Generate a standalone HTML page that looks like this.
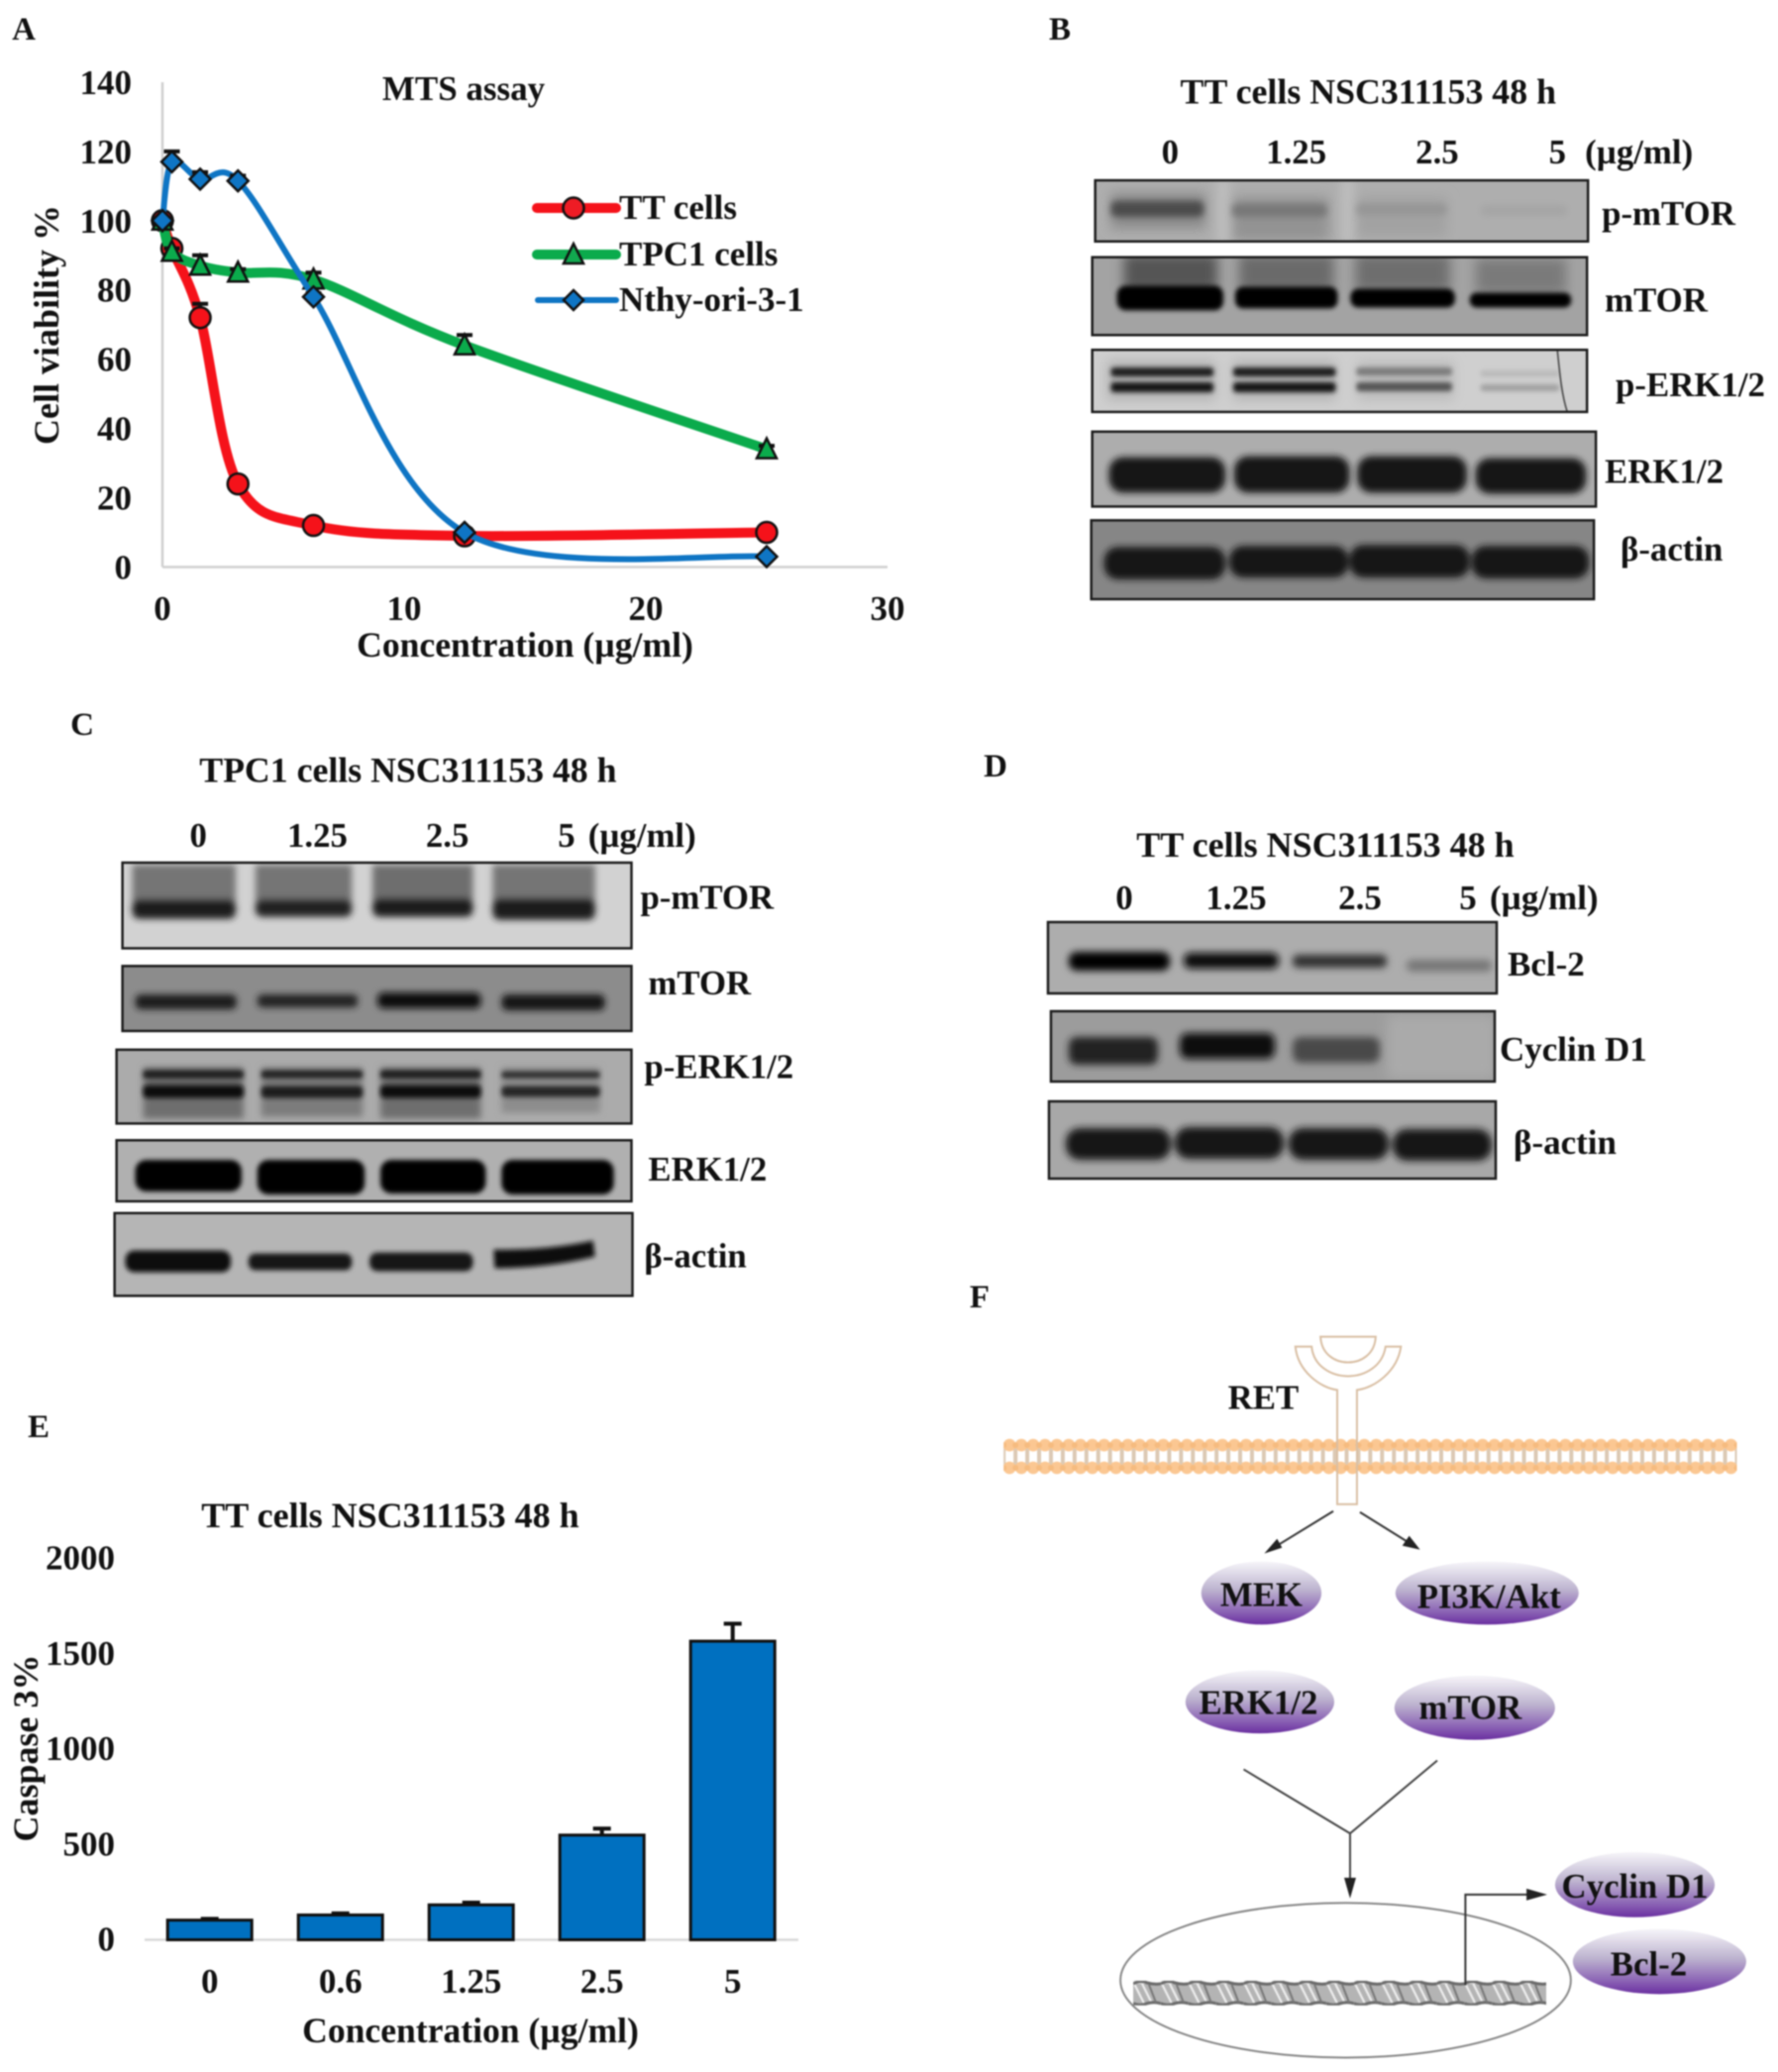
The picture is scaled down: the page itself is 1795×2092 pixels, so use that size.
<!DOCTYPE html>
<html lang="en">
<head>
<meta charset="utf-8">
<title>NSC311153 figure</title>
<style>
html,body{margin:0;padding:0;background:#fff;}
svg text{font-family:"Liberation Serif","DejaVu Serif",serif;font-weight:bold;font-size:35px;fill:#111;}
svg text.big{font-size:36px;}
.m{text-anchor:middle;}
.e{text-anchor:end;}
.frame{fill:none;stroke:#1c1c1c;stroke-width:2.5;}
#fig{filter:blur(0.7px);}
</style>
</head>
<body>
<svg id="fig" xmlns="http://www.w3.org/2000/svg" width="1795" height="2092" viewBox="0 0 1795 2092" style="display:block">
<defs>
<filter id="b1" x="-20%" y="-60%" width="140%" height="220%"><feGaussianBlur stdDeviation="2.4"/></filter>
<filter id="b3" x="-20%" y="-60%" width="140%" height="220%"><feGaussianBlur stdDeviation="3.6"/></filter>
<filter id="b6" x="-20%" y="-60%" width="140%" height="220%"><feGaussianBlur stdDeviation="6"/></filter>
<linearGradient id="pill" x1="0" y1="0" x2="0" y2="1">
<stop offset="0" stop-color="#f6f5f9"/><stop offset="0.45" stop-color="#bdb3cf"/><stop offset="0.8" stop-color="#8a62b4"/><stop offset="1" stop-color="#6a2fa0"/>
</linearGradient>
<pattern id="lipid" patternUnits="userSpaceOnUse" x="1013.5" y="1453" width="12" height="37">
<line x1="0" y1="8" x2="0" y2="30" stroke="#dcc9b4" stroke-width="4"/><line x1="12" y1="8" x2="12" y2="30" stroke="#dcc9b4" stroke-width="4"/>
<circle cx="6" cy="7" r="6.4" fill="#fbc792"/><circle cx="6" cy="30" r="6.4" fill="#fbc792"/>
<circle cx="0" cy="7" r="3" fill="#f6bb7f"/><circle cx="12" cy="7" r="3" fill="#f6bb7f"/><circle cx="0" cy="30" r="3" fill="#f6bb7f"/><circle cx="12" cy="30" r="3" fill="#f6bb7f"/>
</pattern>
<pattern id="helix" patternUnits="userSpaceOnUse" x="1145" y="2003.5" width="28" height="25">
<path d="M0 3H28V23H0Z" fill="#b4b4b4"/>
<path d="M1 3L11 23M9 3L19 23" fill="none" stroke="#eee" stroke-width="2.2"/>
<path d="M0 3Q7 -1 14 2Q21 4 28 3M0 23Q7 26 14 23Q21 21 28 23" fill="none" stroke="#6a6a6a" stroke-width="3"/>
<path d="M16 4L23 22" fill="none" stroke="#777" stroke-width="2"/>
</pattern>
</defs>

<!-- Panel letters -->
<text class="m" x="24" y="40" style="font-size:33px">A</text>
<text class="m" x="1070" y="40" style="font-size:33px">B</text>
<text class="m" x="83" y="742" style="font-size:33px">C</text>
<text class="m" x="1005" y="784" style="font-size:33px">D</text>
<text class="m" x="39" y="1451" style="font-size:33px">E</text>
<text class="m" x="989" y="1320" style="font-size:33px">F</text>

<!-- Panel A static parts -->
<g id="panelA">
<line x1="164" y1="83" x2="164" y2="572.5" stroke="#d0d0d0" stroke-width="2.5"/>
<line x1="164" y1="572.5" x2="896" y2="572.5" stroke="#d0d0d0" stroke-width="2.5"/>
<text class="m" x="468" y="101">MTS assay</text>
<text class="m" x="530" y="663" style="font-size:35.6px">Concentration (µg/ml)</text>
<text class="m big" transform="translate(59,328) rotate(-90)" x="0" y="0">Cell viability %</text>
</g>
<g>
<g>
<line x1="542" y1="210" x2="622" y2="210" stroke="#f5121a" stroke-width="10" stroke-linecap="round"/>
<circle cx="579" cy="210" r="10.5" fill="#ee1c25" stroke="#111" stroke-width="2.5"/>
<text x="625" y="221">TT cells</text>
</g>
<g>
<line x1="542" y1="257" x2="622" y2="257" stroke="#0bab4c" stroke-width="10" stroke-linecap="round"/>
<path d="M579 246L589 266L569 266Z" fill="#11a84f" stroke="#111" stroke-width="2.5"/>
<text x="625" y="268">TPC1 cells</text>
</g>
<g>
<line x1="543" y1="303" x2="622" y2="303" stroke="#0f75c4" stroke-width="6" stroke-linecap="round"/>
<path d="M579 293L589 303L579 313L569 303Z" fill="#0f75c4" stroke="#111" stroke-width="2.5"/>
<text x="625" y="314">Nthy-ori-3-1</text>
</g>
</g>

<!-- Panel B -->
<g transform="translate(1040,0) scale(0.995) translate(-1040,0)">
<text class="m big" x="1383" y="105">TT cells NSC311153 48 h</text>
<text class="m" x="1182" y="166">0</text>
<text class="m" x="1310" y="166">1.25</text>
<text class="m" x="1453" y="166">2.5</text>
<text class="m" x="1575" y="166">5</text>
<text x="1603" y="166">(µg/ml)</text>

<g>
<svg x="1106" y="183" width="500" height="62" viewBox="1106 183 500 62">
<rect width="1795" height="2092" fill="#aeaeae"/>
<g filter="url(#b6)">
<rect x="1122" y="196" width="96" height="36" fill="#8b8b8b"/>
<rect x="1245" y="200" width="98" height="44" fill="#939393"/>
<rect x="1371" y="200" width="92" height="40" fill="#a2a2a2"/>
<rect x="1232" y="180" width="8" height="70" fill="#c8c8c8"/>
<rect x="1358" y="180" width="8" height="70" fill="#c8c8c8"/>
</g>
<g filter="url(#b3)">
<rect x="1122" y="204" width="94" height="16" rx="5" fill="#4c4c4c"/>
<rect x="1245" y="207" width="96" height="13" rx="5" fill="#777"/>
<rect x="1371" y="207" width="92" height="11" rx="5" fill="#959595"/>
<rect x="1497" y="208" width="88" height="11" rx="5" fill="#a5a5a5"/>
</g>
</svg>
<rect class="frame" x="1106" y="183" width="500" height="62"/>
</g>

<g>
<svg x="1103" y="261" width="502" height="79" viewBox="1103 261 502 79">
<rect width="1795" height="2092" fill="#a3a3a3"/>
<g filter="url(#b6)">
<rect x="1135" y="258" width="95" height="38" fill="#555"/>
<rect x="1252" y="258" width="96" height="38" fill="#6b6b6b"/>
<rect x="1370" y="258" width="96" height="38" fill="#6e6e6e"/>
<rect x="1492" y="262" width="92" height="36" fill="#7a7a7a"/>
</g>
<g filter="url(#b1)">
<rect x="1128" y="290" width="108" height="25" rx="9" fill="#000"/>
<rect x="1248" y="291" width="104" height="22" rx="8" fill="#020202"/>
<rect x="1365" y="293" width="106" height="19" rx="8" fill="#030303"/>
<rect x="1486" y="297" width="103" height="15" rx="7" fill="#050505"/>
</g>
</svg>
<rect class="frame" x="1103" y="261" width="502" height="79"/>
</g>

<g>
<svg x="1103" y="355" width="502" height="63" viewBox="1103 355 502 63">
<rect width="1795" height="2092" fill="#cfcfcf"/>
<g filter="url(#b6)">
<rect x="1118" y="366" width="110" height="40" fill="#b3b3b3"/>
<rect x="1246" y="366" width="104" height="40" fill="#b3b3b3"/>
<rect x="1372" y="366" width="98" height="40" fill="#bcbcbc"/>
</g>
<g filter="url(#b1)">
<rect x="1122" y="373" width="104" height="9" rx="3" fill="#1e1e1e"/>
<rect x="1122" y="388" width="104" height="10" rx="3" fill="#141414"/>
<rect x="1246" y="373" width="104" height="9" rx="3" fill="#1e1e1e"/>
<rect x="1246" y="388" width="104" height="10" rx="3" fill="#161616"/>
<rect x="1371" y="373" width="97" height="8" rx="3" fill="#7a7a7a"/>
<rect x="1371" y="388" width="97" height="9" rx="3" fill="#555"/>
<rect x="1497" y="376" width="80" height="6" rx="2" fill="#b8b8b8"/>
<rect x="1497" y="390" width="80" height="7" rx="3" fill="#a0a0a0"/>
</g>
<path d="M1575 356C1577 375 1579 400 1585 418" fill="none" stroke="#555" stroke-width="1.8"/>
</svg>
<rect class="frame" x="1103" y="355" width="502" height="63"/>
</g>

<g>
<svg x="1103" y="438" width="511" height="76" viewBox="1103 438 511 76">
<rect width="1795" height="2092" fill="#adadad"/>
<g filter="url(#b3)">
<rect x="1120" y="464" width="118" height="36" rx="14" fill="#121212"/>
<rect x="1247" y="463" width="117" height="37" rx="14" fill="#121212"/>
<rect x="1372" y="463" width="111" height="37" rx="14" fill="#121212"/>
<rect x="1492" y="465" width="112" height="36" rx="14" fill="#161616"/>
</g>
</svg>
<rect class="frame" x="1103" y="438" width="511" height="76"/>
</g>

<g>
<svg x="1102" y="528" width="510" height="80" viewBox="1102 528 510 80">
<rect width="1795" height="2092" fill="#868686"/>
<g filter="url(#b3)">
<rect x="1115" y="555" width="123" height="33" rx="14" fill="#161616"/>
<rect x="1242" y="554" width="121" height="32" rx="14" fill="#161616"/>
<rect x="1364" y="553" width="122" height="33" rx="14" fill="#161616"/>
<rect x="1488" y="554" width="119" height="33" rx="14" fill="#161616"/>
</g>
</svg>
<rect class="frame" x="1102" y="528" width="510" height="80"/>
</g>

<text x="1620" y="228">p-mTOR</text>
<text x="1623" y="316">mTOR</text>
<text x="1634" y="402">p-ERK1/2</text>
<text x="1623" y="490">ERK1/2</text>
<text x="1639" y="569">β-actin</text>
</g>

<!-- Panel C -->
<g transform="translate(60,700) scale(0.994) translate(-60,-700)">
<text class="m big" x="414" y="790">TPC1 cells NSC311153 48 h</text>
<text class="m" x="201" y="856">0</text>
<text class="m" x="322" y="856">1.25</text>
<text class="m" x="454" y="856">2.5</text>
<text class="m" x="575" y="856">5</text>
<text x="597" y="856">(µg/ml)</text>

<g>
<svg x="124" y="872" width="517" height="87" viewBox="124 872 517 87">
<rect width="1795" height="2092" fill="#d2d2d2"/>
<g filter="url(#b3)">
<rect x="134" y="874" width="105" height="45" fill="#747474"/>
<rect x="259" y="874" width="98" height="45" fill="#747474"/>
<rect x="378" y="874" width="102" height="45" fill="#6e6e6e"/>
<rect x="500" y="874" width="104" height="45" fill="#747474"/>
<rect x="134" y="909" width="105" height="20" rx="7" fill="#1c1c1c"/>
<rect x="259" y="909" width="98" height="18" rx="7" fill="#202020"/>
<rect x="378" y="908" width="102" height="19" rx="7" fill="#1e1e1e"/>
<rect x="500" y="908" width="104" height="22" rx="7" fill="#1c1c1c"/>
</g>
</svg>
<rect class="frame" x="124" y="872" width="517" height="87"/>
</g>

<g>
<svg x="124" y="977" width="517" height="66" viewBox="124 977 517 66">
<rect width="1795" height="2092" fill="#8c8c8c"/>
<g filter="url(#b3)">
<rect x="137" y="1006" width="103" height="15" rx="6" fill="#1a1a1a"/>
<rect x="261" y="1006" width="102" height="13" rx="5" fill="#222"/>
<rect x="383" y="1004" width="105" height="16" rx="6" fill="#0e0e0e"/>
<rect x="509" y="1006" width="105" height="16" rx="6" fill="#141414"/>
</g>
</svg>
<rect class="frame" x="124" y="977" width="517" height="66"/>
</g>

<g>
<svg x="118" y="1062" width="523" height="75" viewBox="118 1062 523 75">
<rect width="1795" height="2092" fill="#ababab"/>
<g filter="url(#b3)">
<rect x="145" y="1080" width="102" height="52" fill="#6e6e6e"/>
<rect x="265" y="1080" width="103" height="50" fill="#7c7c7c"/>
<rect x="386" y="1080" width="102" height="52" fill="#6e6e6e"/>
<rect x="509" y="1080" width="100" height="46" fill="#8c8c8c"/>
</g>
<g filter="url(#b1)">
<rect x="145" y="1083" width="102" height="8" rx="3" fill="#1e1e1e"/>
<rect x="145" y="1098" width="102" height="13" rx="4" fill="#101010"/>
<rect x="265" y="1083" width="103" height="8" rx="3" fill="#222"/>
<rect x="265" y="1099" width="103" height="12" rx="4" fill="#1a1a1a"/>
<rect x="386" y="1083" width="102" height="8" rx="3" fill="#1c1c1c"/>
<rect x="386" y="1098" width="102" height="13" rx="4" fill="#0e0e0e"/>
<rect x="509" y="1084" width="100" height="7" rx="3" fill="#2e2e2e"/>
<rect x="509" y="1099" width="100" height="11" rx="4" fill="#262626"/>
</g>
</svg>
<rect class="frame" x="118" y="1062" width="523" height="75"/>
</g>

<g>
<svg x="118" y="1154" width="523" height="62" viewBox="118 1154 523 62">
<rect width="1795" height="2092" fill="#b0b0b0"/>
<g filter="url(#b1)">
<rect x="137" y="1174" width="108" height="32" rx="11" fill="#040404"/>
<rect x="261" y="1174" width="109" height="35" rx="11" fill="#000"/>
<rect x="386" y="1174" width="107" height="34" rx="11" fill="#000"/>
<rect x="509" y="1174" width="114" height="35" rx="11" fill="#000"/>
</g>
</svg>
<rect class="frame" x="118" y="1154" width="523" height="62"/>
</g>

<g>
<svg x="116" y="1228" width="526" height="84" viewBox="116 1228 526 84">
<rect width="1795" height="2092" fill="#b5b5b5"/>
<g filter="url(#b1)">
<rect x="127" y="1266" width="107" height="22" rx="9" fill="#080808"/>
<rect x="252" y="1269" width="105" height="17" rx="7" fill="#141414"/>
<rect x="375" y="1268" width="105" height="19" rx="8" fill="#121212"/>
<path d="M501 1265Q555 1266 602 1256L604 1272Q555 1284 502 1284Z" fill="#0c0c0c"/>
</g>
</svg>
<rect class="frame" x="116" y="1228" width="526" height="84"/>
</g>

<text x="650" y="919">p-mTOR</text>
<text x="658" y="1006">mTOR</text>
<text x="654" y="1091">p-ERK1/2</text>
<text x="658" y="1195">ERK1/2</text>
<text x="654" y="1283">β-actin</text>
</g>

<!-- Panel D -->
<g>
<text class="m big" x="1338" y="865">TT cells NSC311153 48 h</text>
<text class="m" x="1135" y="918">0</text>
<text class="m" x="1248" y="918">1.25</text>
<text class="m" x="1373" y="918">2.5</text>
<text class="m" x="1482" y="918">5</text>
<text x="1504" y="918">(µg/ml)</text>

<g>
<svg x="1058" y="931" width="453" height="72" viewBox="1058 931 453 72">
<rect width="1795" height="2092" fill="#adadad"/>
<g filter="url(#b3)">
<rect x="1079" y="961" width="102" height="19" rx="8" fill="#000"/>
<rect x="1195" y="962" width="96" height="16" rx="7" fill="#0c0c0c"/>
<rect x="1305" y="964" width="95" height="13" rx="5" fill="#303030"/>
<rect x="1420" y="969" width="86" height="12" rx="5" fill="#777"/>
</g>
</svg>
<rect class="frame" x="1058" y="931" width="453" height="72"/>
</g>

<g>
<svg x="1061" y="1021" width="448" height="71" viewBox="1061 1021 448 71">
<rect width="1795" height="2092" fill="#9c9c9c"/>
<rect x="1400" y="1025" width="110" height="64" fill="#aaa" filter="url(#b6)"/>
<g filter="url(#b3)">
<rect x="1079" y="1047" width="90" height="28" rx="8" fill="#222"/>
<rect x="1191" y="1043" width="96" height="26" rx="8" fill="#0c0c0c"/>
<rect x="1305" y="1047" width="88" height="26" rx="8" fill="#484848"/>
</g>
</svg>
<rect class="frame" x="1061" y="1021" width="448" height="71"/>
</g>

<g>
<svg x="1059" y="1112" width="451" height="78" viewBox="1059 1112 451 78">
<rect width="1795" height="2092" fill="#a8a8a8"/>
<g filter="url(#b3)">
<rect x="1076" y="1139" width="106" height="32" rx="14" fill="#181818"/>
<rect x="1186" y="1138" width="110" height="32" rx="14" fill="#181818"/>
<rect x="1301" y="1139" width="101" height="32" rx="14" fill="#181818"/>
<rect x="1406" y="1140" width="100" height="32" rx="14" fill="#181818"/>
</g>
</svg>
<rect class="frame" x="1059" y="1112" width="451" height="78"/>
</g>

<text x="1522" y="985">Bcl-2</text>
<text x="1514" y="1071">Cyclin D1</text>
<text x="1528" y="1165">β-actin</text>
</g>

<!-- Panel E static -->
<g id="panelE">
<text class="m big" x="394" y="1542">TT cells NSC311153 48 h</text>
<text class="m" x="475" y="2062" style="font-size:35.6px">Concentration (µg/ml)</text>
<text class="m big" transform="translate(38,1765) rotate(-90)" x="0" y="0">Caspase 3%</text>
<line x1="146" y1="1958.5" x2="806" y2="1958.5" stroke="#d9d9d9" stroke-width="2.5"/>
</g>

<!-- Panel F -->
<g transform="translate(960,1280) scale(0.995) translate(-960,-1280)">
<rect x="1013.5" y="1453" width="744" height="37" fill="url(#lipid)"/>
<path d="M1309.5 1360C1312 1385 1335 1402 1352 1404L1352 1520L1372 1520L1372 1404C1390 1402 1413 1385 1416.6 1360L1401 1360C1398 1380 1380 1390 1363 1390C1346 1390 1328 1380 1326 1360Z" fill="none" stroke="#d9bfa4" stroke-width="2"/>
<path d="M1335 1350L1391 1350C1390 1368 1376 1376 1363 1376C1350 1376 1336 1368 1335 1350Z" fill="none" stroke="#d9bfa4" stroke-width="2"/>
<text class="m" x="1277" y="1423">RET</text>
<g stroke="#333" stroke-width="2" fill="#222">
<line x1="1348" y1="1527" x2="1286" y2="1565"/>
<path d="M1278 1570L1291 1555L1296 1564Z" stroke="none"/>
<line x1="1375" y1="1528" x2="1428" y2="1561"/>
<path d="M1436 1566L1418 1562L1425 1552Z" stroke="none"/>
</g>
<g><ellipse cx="1275" cy="1610" rx="61" ry="32" fill="url(#pill)"/><text class="m" x="1275" y="1623">MEK</text></g>
<g><ellipse cx="1504" cy="1610" rx="93" ry="32" fill="url(#pill)"/><text class="m" x="1506" y="1625">PI3K/Akt</text></g>
<g><ellipse cx="1273.5" cy="1720.5" rx="75.5" ry="32" fill="url(#pill)"/><text class="m" x="1272" y="1733">ERK1/2</text></g>
<g><ellipse cx="1491.5" cy="1726.5" rx="81.5" ry="32.5" fill="url(#pill)"/><text class="m" x="1487" y="1738">mTOR</text></g>
<g fill="none" stroke="#444" stroke-width="2">
<path d="M1257 1789L1365 1854L1453.5 1780M1365 1854L1365 1908"/>
</g>
<path d="M1365 1920L1359 1899L1371 1899Z" fill="#222"/>
<ellipse cx="1360.5" cy="2003" rx="228.5" ry="78.5" fill="none" stroke="#888" stroke-width="2"/>
<rect x="1145" y="2003.5" width="419" height="25" fill="url(#helix)"/>
<path d="M1482 2008L1482 1916L1552 1916" fill="none" stroke="#333" stroke-width="2"/>
<path d="M1565 1916L1544 1910L1544 1922Z" fill="#222"/>
<g><ellipse cx="1654" cy="1906" rx="81" ry="33" fill="url(#pill)"/><text class="m" x="1654" y="1919">Cyclin D1</text></g>
<g><ellipse cx="1679" cy="1984" rx="88" ry="33" fill="url(#pill)"/><text class="m" x="1668" y="1998">Bcl-2</text></g>
</g>
</svg>

<script>
// Panel A data
const concentrations = [0, 0.39, 1.56, 3.125, 6.25, 12.5, 25];
const ttCells = [100, 92, 72, 24, 12, 9, 10];
const tpc1Cells = [100, 91, 87, 85, 83, 64, 34];
const nthyCells = [100, 117, 112, 111.5, 78, 10, 3];
const ttErrors = [0, 0, 4, 1, 1, 1, 0.5];
const tpc1Errors = [0, 1, 3, 1, 2, 3, 1];
const nthyErrors = [0, 3, 2, 1.5, 1, 1, 0.5];
const xTicksA = [0, 10, 20, 30];
const yTicksA = [0, 20, 40, 60, 80, 100, 120, 140];
// Panel E data
const doseCategories = ['0', '0.6', '1.25', '2.5', '5'];
const caspaseValues = [103, 130, 183, 549, 1566];
const caspaseErrors = [7, 8, 12, 34, 92];
const yTicksE = [0, 500, 1000, 1500, 2000];

const SVGNS = 'http://www.w3.org/2000/svg';
const xA = v => 164 + v * 24.4;
const yA = v => 572.5 - v * 3.497;
const yE = v => 1958.5 - v * 0.1925;
const bandE = i => 145.7 + 132 * i;
const BAR_W = 85;

function make(tag, parent, attrs, text) {
  const n = document.createElementNS(SVGNS, tag);
  for (const k in attrs) n.setAttribute(k, attrs[k]);
  if (text !== undefined) n.textContent = text;
  parent.appendChild(n);
  return n;
}
function smoothPath(xs, ys) {
  const p = xs.map((x, i) => [xA(x), yA(ys[i])]);
  let d = 'M' + p[0][0] + ' ' + p[0][1];
  for (let i = 0; i < p.length - 1; i++) {
    const a = p[Math.max(i - 1, 0)], b = p[i], c = p[i + 1], e = p[Math.min(i + 2, p.length - 1)];
    d += 'C' + (b[0] + (c[0] - a[0]) / 6) + ' ' + (b[1] + (c[1] - a[1]) / 6) + ' ' +
         (c[0] - (e[0] - b[0]) / 6) + ' ' + (c[1] - (e[1] - b[1]) / 6) + ' ' + c[0] + ' ' + c[1];
  }
  return d;
}

const panelA = document.getElementById('panelA');
yTicksA.forEach(v => {
  const t = make('text', panelA, {class: 'e', x: 133, y: yA(v) + 12}, String(v));
  
  
});
xTicksA.forEach(v => {
  const t = make('text', panelA, {class: 'm', x: xA(v), y: 626}, String(v));
  
  
});

function drawSeries(name, values, errors, color, width, marker) {
  const line = make('path', panelA, {d: smoothPath(concentrations, values), fill: 'none', stroke: color, 'stroke-width': width});
  
  
  values.forEach((v, i) => {
    if (errors[i] > 0) {
      const x = xA(concentrations[i]), top = yA(v + errors[i]);
      const stem = make('path', panelA, {d: 'M' + x + ' ' + yA(v) + 'V' + top + 'M' + (x - 8) + ' ' + top + 'H' + (x + 8), fill: 'none', stroke: '#111', 'stroke-width': 4});
      
      
    }
  });
  values.forEach((v, i) => {
    const x = xA(concentrations[i]), y = yA(v);
    const style = {fill: color, stroke: '#111', 'stroke-width': 2.5};
    let m;
    if (marker === 'circle') m = make('circle', panelA, Object.assign({cx: x, cy: y, r: 10.5}, style));
    else if (marker === 'triangle') m = make('path', panelA, Object.assign({d: 'M' + x + ' ' + (y - 11) + 'L' + (x + 10) + ' ' + (y + 9) + 'L' + (x - 10) + ' ' + (y + 9) + 'Z'}, style));
    else m = make('path', panelA, Object.assign({d: 'M' + x + ' ' + (y - 10.5) + 'L' + (x + 10.5) + ' ' + y + 'L' + x + ' ' + (y + 10.5) + 'L' + (x - 10.5) + ' ' + y + 'Z'}, style));
    
    
  });
}
drawSeries('tt-cells', ttCells, ttErrors, '#f5121a', 10, 'circle');
drawSeries('tpc1-cells', tpc1Cells, tpc1Errors, '#0bab4c', 10, 'triangle');
drawSeries('nthy-ori', nthyCells, nthyErrors, '#0f75c4', 6, 'diamond');

const panelE = document.getElementById('panelE');
yTicksE.forEach(v => {
  const t = make('text', panelE, {class: 'e', x: 116, y: yE(v) + 11}, String(v));
  
  
});
doseCategories.forEach((c, i) => {
  const cx = bandE(i) + 66;
  const t = make('text', panelE, {class: 'm', x: cx, y: 2012}, c);
  
  
  const top = yE(caspaseValues[i] + caspaseErrors[i]);
  const err = make('path', panelE, {d: 'M' + cx + ' ' + yE(caspaseValues[i]) + 'V' + top + 'M' + (cx - 9) + ' ' + top + 'H' + (cx + 9), fill: 'none', stroke: '#111', 'stroke-width': 4});
  
  
  const bar = make('rect', panelE, {x: cx - BAR_W / 2, y: yE(caspaseValues[i]), width: BAR_W, height: yE(0) - yE(caspaseValues[i]), fill: '#0070c0', stroke: '#111', 'stroke-width': 3});
  
  
});
</script>
</body>
</html>
